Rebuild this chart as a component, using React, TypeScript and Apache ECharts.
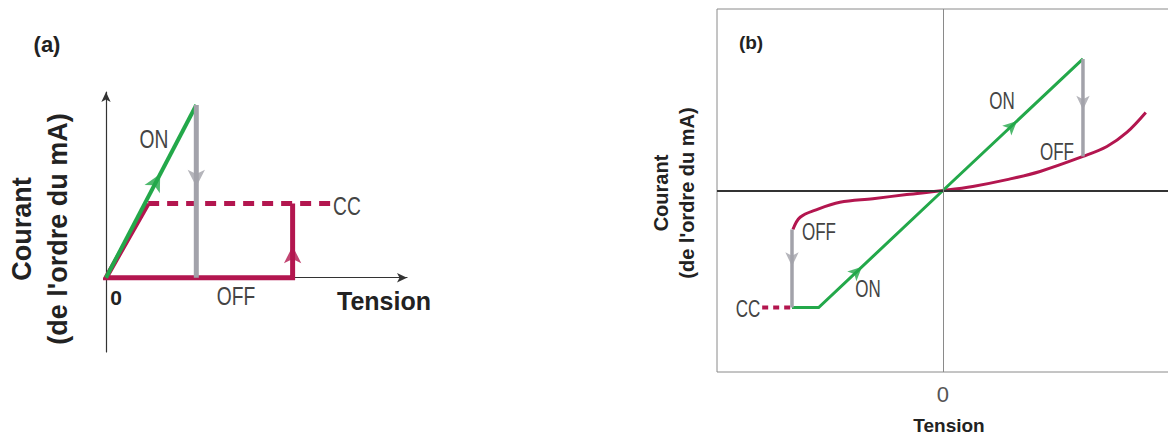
import React, { useEffect, useRef } from "react";
import * as echarts from "echarts";

// ---------- Panel (a) data ----------
const aGreenOn = [[0, 0], [3, 9.3]];
const aGreyOff = [[3, 9.3], [3, 0]];
const aRedSolid = [[1.4, 4], [0, 0], [6.2, 0], [6.2, 4]];
const aRedDashed = [[1.4, 4], [7.45, 4]];
const aGreenArrows = [[1.8, 5.58]];
const aGreyArrows = [[3, 4.9]];
const aRedArrows = [[6.2, 1.7]];

// ---------- Panel (b) data ----------
const bGreenOn = [[-3.34, -2.58], [-2.75, -2.58], [0, 0], [3.1, 2.9]];
const bRedDashed = [[-4.0, -2.58], [-3.34, -2.58]];
const bRedCurve = [
  [-3.32, -0.86], [-3.16, -0.59], [-2.79, -0.42], [-2.28, -0.26], [-1.55, -0.18],
  [-0.8, -0.09], [0, 0], [0.66, 0.09], [1.42, 0.24], [2.15, 0.42], [3.1, 0.75],
  [3.63, 0.97], [4.07, 1.28], [4.49, 1.72],
];
const bGreyRight = [[3.1, 2.9], [3.1, 0.75]];
const bGreyLeft = [[-3.34, -0.86], [-3.34, -2.58]];
const bGreenArrows = [[1.64, 1.53], [-1.79, -1.68]];
const bGreyArrows = [[3.1, 1.78], [-3.34, -1.67]];
const bTickLabels = ["0"];

const GREEN = "#23a84a";
const RED = "#b3164f";
const GREY = "#a2a2aa";
const TXT = "#444";
const SANS = "'Liberation Sans', Arial, sans-serif";

export default function App() {
  const ref = useRef<HTMLDivElement>(null);
  useEffect(() => {
    if (!ref.current) return;
    const chart = echarts.init(ref.current, undefined, { renderer: "svg" });
    const hidden = { show: false };
    const arrowScatter = (data: number[][], color: string, rot: number, xi: number, size: number[]) => ({
      type: "scatter",
      xAxisIndex: xi,
      yAxisIndex: xi,
      symbol: "arrow",
      symbolSize: size,
      symbolRotate: rot,
      itemStyle: { color },
      data,
      z: 5,
    });
    const lineS = (data: number[][], color: string, width: number, xi: number, extra: any = {}) => ({
      type: "line",
      xAxisIndex: xi,
      yAxisIndex: xi,
      data,
      symbol: "none",
      lineStyle: { color, width, cap: "butt", join: "miter" },
      ...extra,
    });
    const txt = (text: string, x: number, y: number, size: number, weight = "normal", fill = TXT, rot = 0, sx = 1) => ({
      type: "text",
      x,
      y,
      rotation: rot,
      scaleX: sx,
      style: {
        text,
        fontSize: size,
        fontFamily: SANS,
        fontWeight: weight,
        fill,
        align: "center",
        verticalAlign: "middle",
        lineHeight: size * 1.3,
      },
      z: 10,
    });
    const narrow = (text: string, x: number, y: number, size: number) => txt(text, x, y, size, "normal", TXT, 0, 0.74);

    chart.setOption({
      animation: false,
      backgroundColor: "#fff",
      grid: [
        { left: 106, top: 92, width: 301, height: 260, show: false, outerBoundsMode: "none", containLabel: false },
        {
          left: 717, top: 9, width: 497, height: 363, show: true, borderColor: "#8a8a8a", borderWidth: 1,
          backgroundColor: "transparent", outerBoundsMode: "none", containLabel: false,
        },
      ],
      xAxis: [
        {
          type: "value", gridIndex: 0, min: 0, max: 10,
          axisLine: { show: true, onZero: true, symbol: ["none", "arrow"], symbolSize: [7, 10], lineStyle: { color: "#333", width: 1.2 } },
          axisTick: hidden, axisLabel: hidden, splitLine: hidden,
        },
        {
          type: "value", gridIndex: 1, min: -5, max: 6, interval: 1, position: "bottom",
          axisLine: { show: false, onZero: false },
          axisTick: hidden, splitLine: hidden,
          axisLabel: {
            show: true, margin: 11, fontSize: 22, fontFamily: SANS, color: "#555",
            formatter: (v: number) => (bTickLabels.includes(String(v)) ? String(v) : ""),
          },
        },
      ],
      yAxis: [
        {
          type: "value", gridIndex: 0, min: -4, max: 10,
          axisLine: { show: true, onZero: false, symbol: ["none", "arrow"], symbolSize: [7, 10], lineStyle: { color: "#333", width: 1.2 } },
          axisTick: hidden, axisLabel: hidden, splitLine: hidden,
        },
        {
          type: "value", gridIndex: 1, min: -4, max: 4, position: "left",
          axisLine: { show: false, onZero: false },
          axisTick: hidden, axisLabel: hidden, splitLine: hidden,
        },
      ],
      series: [
        // panel (a)
        lineS(aRedSolid, RED, 5, 0),
        lineS(aRedDashed, RED, 5, 0, { lineStyle: { color: RED, width: 5, type: [11, 8], cap: "butt" } }),
        lineS(aGreenOn, GREEN, 4, 0),
        lineS(aGreyOff, GREY, 5, 0),
        arrowScatter(aGreenArrows, GREEN, -28, 0, [13, 17]),
        arrowScatter(aGreyArrows, GREY, 180, 0, [13, 17]),
        arrowScatter(aRedArrows, RED, 0, 0, [13, 17]),
        // panel (b)
        lineS([[0, 0]], "#333", 0, 1, {
          markLine: {
            silent: true, symbol: "none", label: { show: false },
            data: [
              { yAxis: 0, lineStyle: { color: "#333", width: 2, type: "solid" } },
              { xAxis: 0, lineStyle: { color: "#8a8a8a", width: 1, type: "solid" } },
            ],
          },
        }),
        lineS(bRedCurve, RED, 3, 1, { smooth: 0.35 }),
        lineS(bRedDashed, RED, 4, 1, { lineStyle: { color: RED, width: 4, type: [6, 5], cap: "butt" } }),
        lineS(bGreenOn, GREEN, 3, 1),
        lineS(bGreyRight, GREY, 3.5, 1),
        lineS(bGreyLeft, GREY, 3.5, 1),
        arrowScatter(bGreenArrows, GREEN, -47, 1, [10, 14]),
        arrowScatter(bGreyArrows, GREY, 180, 1, [10, 14]),
      ],
      graphic: [
        txt("(a)", 47, 44, 22, "bold", "#222"),
        txt("Courant\n(de l'ordre du mA)", 40, 229, 27, "bold", "#222", Math.PI / 2),
        txt("Tension", 384, 301, 25, "bold", "#222"),
        txt("0", 116, 297, 21, "bold", "#222"),
        narrow("ON", 154, 139, 26),
        narrow("CC", 347, 206, 26),
        narrow("OFF", 236, 296, 26),
        txt("(b)", 751, 42, 19, "bold", "#222"),
        txt("Courant\n(de l'ordre du mA)", 674, 193, 20, "bold", "#222", Math.PI / 2),
        txt("Tension", 949, 425, 19, "bold", "#222"),
        narrow("ON", 1002, 101, 23),
        narrow("OFF", 1057, 152, 23),
        narrow("OFF", 819, 232, 23),
        narrow("ON", 868, 289, 23),
        narrow("CC", 748, 309, 23),
      ],
    });
    return () => chart.dispose();
  }, []);
  return (
    <div
      ref={ref}
      style={{ position: "absolute", left: 0, top: 0, width: 1168, height: 435, background: "#fff" }}
    />
  );
}
